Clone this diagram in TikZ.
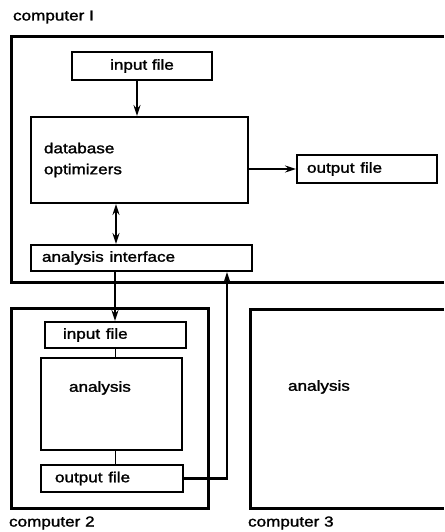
\documentclass[tikz,border=0pt]{standalone}
\usepackage{graphicx}
\usepackage{fontspec}
\setmainfont{Liberation Sans}[FakeBold=1.4]
\usetikzlibrary{arrows.meta}
\newcommand{\lblfont}{\fontsize{14.5}{21}\selectfont}
\newcommand{\wide}[1]{\scalebox{1.18}[1]{#1}}

\begin{document}
\begin{tikzpicture}[x=1pt, y=-1pt, >={Stealth[length=11pt, width=7pt]}, line width=2.1pt,
  frame/.style={draw, line width=3pt},
  filebox/.style={draw, line width=1.9pt, minimum height=28, inner ysep=0, align=left, font=\lblfont},
  lbl/.style={font=\lblfont, inner sep=0, anchor=west},
  thinlink/.style={line width=1.8pt}]

% Canvas
\useasboundingbox (0,0) rectangle (444,532);

% Computer 1
\draw[frame] (444,37) -- (11,37) -- (11,282) -- (444,282);
\node[lbl] (c1lbl) at (12,17) {\wide{computer I}};
\node[filebox, minimum width=140] (in1) at (142,66) {\wide{input file}};
\node[filebox, text width=191, inner xsep=13, minimum height=86] (db) at (139.5,160) {\wide{database}\\\wide{optimizers}};
\node[filebox, text width=120, inner xsep=10] (out1) at (367,169) {\wide{output file}};
\node[filebox, text width=199, inner xsep=11, minimum height=26] (ai) at (141.5,258) {\wide{analysis interface}};

% Computer 2
\draw[frame] (11,308) rectangle (208,508);
\node[lbl] (c2lbl) at (8,523) {\wide{computer 2}};
\node[filebox, text width=105, inner xsep=18, minimum height=26] (in2) at (115.5,335) {\wide{input file}};
\node[filebox, minimum width=141, minimum height=92] (an2) at (111.5,404) {};
\node[lbl] (an2lbl) at (68,388) {\wide{analysis}};
\node[filebox, text width=114, inner xsep=14, minimum height=27] (out2) at (112,478.5) {\wide{output file}};

% Computer 3
\draw[frame] (444,309) -- (250,309) -- (250,508) -- (444,508);
\node[lbl] (c3lbl) at (247,523) {\wide{computer 3}};
\node[lbl] (an3lbl) at (287,387) {\wide{analysis}};

% Connectors
\draw[->] ([xshift=-5]in1.south) -- ([xshift=-5]in1.south |- db.north);
\draw[->] (db.east |- out1.west) -- (out1.west);
\draw[<->] ([xshift=-23.5]db.south) -- ([xshift=-23.5]db.south |- ai.north);
\draw[->] ([xshift=-26.5]ai.south) -- ([xshift=-26.5]ai.south |- in2.north);
\draw[thinlink] (in2.south) -- (in2.south |- an2.north);
\draw[thinlink] (an2.south -| in2.south) -- (out2.north -| in2.south);
\coordinate (ret) at (227,478.5);
\draw[->] (out2.east) -- (ret) -- (ret |- ai.south);

\end{tikzpicture}
\end{document}
